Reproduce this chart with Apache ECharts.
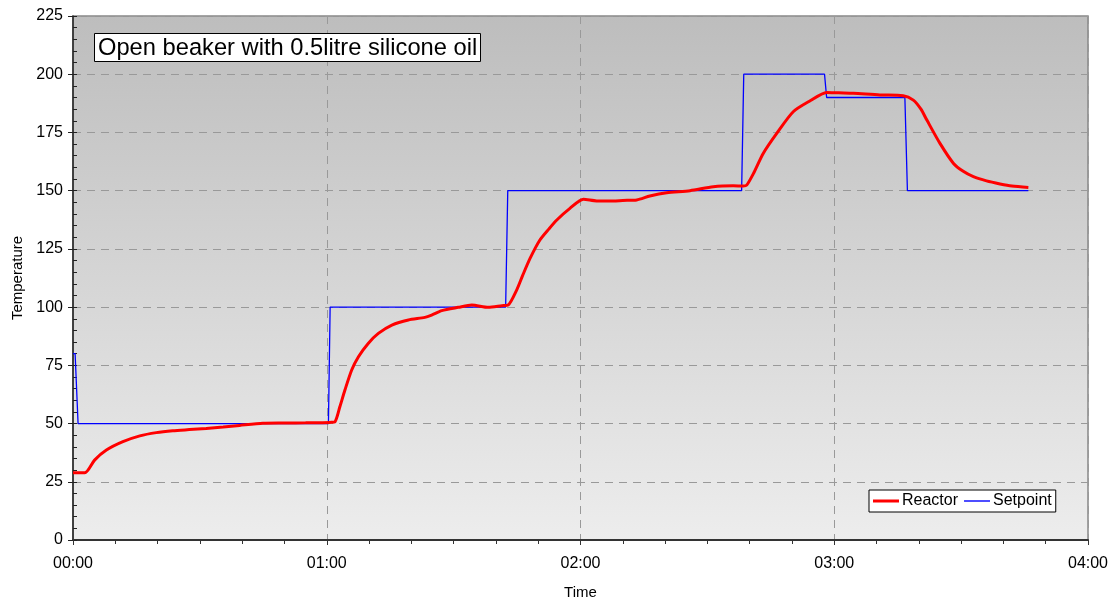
<!DOCTYPE html>
<html><head><meta charset="utf-8">
<script src="https://cdn.jsdelivr.net/npm/echarts@6/dist/echarts.min.js"></script>
<style>html,body{margin:0;padding:0;background:#fff}#c{width:1109px;height:599px}</style>
</head><body><div id="c"></div>
<script>
const titleText = 'Open beaker with 0.5litre silicone oil';
const xTicks = [0, 60, 120, 180, 240];
const reactorTime = [0,2.8,5.1,7.9,11.8,15.8,19.7,23.6,27.5,31.5,35.5,39.4,44.9,50,55,60.8,61.95,63.1,64.3,65.9,67.5,69.8,72.2,75.4,79.3,83.2,84.8,87.2,91.1,94.3,98.2,101.4,102.9,104.9,106.3,108.1,110.4,112.5,114.4,117.5,120.7,123.8,127.8,130,133.3,136.4,140.4,145.9,151.4,156.1,158.5,159.3,160.9,163.2,166.4,170.3,174.3,178.2,181,184.5,190.8,196.3,198.7,200.5,201.9,205,208.2,210.5,212.9,216,219.2,222,225.9];
const reactorTemp = [28.9,28.9,34.3,38.6,42.2,44.7,46.1,46.9,47.4,47.9,48.5,49.2,50.1,50.2,50.3,50.5,50.8,57.2,64.4,73,78.7,84.4,88.7,92.3,94.5,95.6,96.6,98.5,99.9,100.9,99.9,100.6,100.9,107.3,113.5,121,128.8,133.5,137.4,142.4,146.3,145.6,145.6,145.8,146,147.7,149.1,150,151.7,152.1,152,152.4,157.4,166,174.6,183.9,188.6,192.2,192,191.8,191.1,190.8,188.9,185,180.3,170.3,161.7,158.3,156,154.2,152.9,152,151.4];
const setpointTime = [0,0.5,1.2,60.4,60.8,102.3,102.8,158.1,158.6,177.7,178.2,196.7,197.3,225.9];
const setpointTemp = [80,80,50,50,100,100,150,150,200,200,190,190,150,150];

const reactor = reactorTime.map((t,i)=>[t,reactorTemp[i]]);
const setpoint = setpointTime.map((t,i)=>[t,setpointTemp[i]]);
const pad = n => (n<10?'0':'')+n;
const fmt = v => pad(Math.floor(v/60)) + ':' + pad(Math.round(v%60));
const FONT = 'Liberation Sans';

const chart = echarts.init(document.getElementById('c'));
const xBase = {type:'value', min:xTicks[0], max:xTicks[xTicks.length-1], interval:60};
const yBase = {type:'value', min:0, max:225, interval:25};
chart.setOption({
  animation:false,
  textStyle:{fontFamily:FONT},
  title:{text:titleText, left:94, top:33, borderColor:'#000', borderWidth:1, backgroundColor:'#fff',
    padding:[3,4,2,4], textStyle:{fontSize:23.7, fontWeight:'normal', color:'#000', fontFamily:FONT}},
  legend:{left:869, top:490, orient:'horizontal', borderColor:'#000', borderWidth:1, backgroundColor:'#fff',
    padding:[3,4,3,4], itemGap:6, itemWidth:26, itemHeight:10, symbolKeepAspect:true,
    textStyle:{fontSize:16, color:'#000', fontFamily:FONT, padding:[0,0,0,-2]},
    data:[{name:'Reactor', icon:'path://M0,0H26V3H0Z'},{name:'Setpoint', icon:'path://M0,0H26V1.4H0Z'}]},
  grid:{left:73, right:21, top:16, bottom:59, outerBoundsMode:'none', containLabel:false,
    show:true, borderColor:'#888', borderWidth:1.5,
    backgroundColor:new echarts.graphic.LinearGradient(0,0,0,1,[{offset:0,color:'#bdbdbd'},{offset:1,color:'#ededed'}])},
  xAxis:[
    Object.assign({}, xBase, {
      name:'Time', nameLocation:'middle', nameGap:45, nameTextStyle:{fontSize:15, color:'#000'},
      axisLine:{lineStyle:{color:'#333', width:2}},
      axisTick:{show:true, length:5, lineStyle:{color:'#333'}},
      axisLabel:{formatter:fmt, fontSize:16, color:'#000', margin:16},
      splitLine:{show:true, lineStyle:{color:'#999', type:[8,6], width:1}}
    }),
    Object.assign({}, xBase, {
      axisLine:{show:false}, axisLabel:{show:false}, splitLine:{show:false},
      axisTick:{show:true, inside:true, length:4, lineStyle:{color:'#333'}},
      minorTick:{show:true, splitNumber:6, length:4, lineStyle:{color:'#333'}}
    })
  ],
  yAxis:[
    Object.assign({}, yBase, {
      name:'Temperature', nameLocation:'middle', nameGap:47, nameRotate:90, nameTextStyle:{fontSize:15, color:'#000'},
      axisLine:{show:true, lineStyle:{color:'#222', width:1.5}},
      axisTick:{show:true, length:5, lineStyle:{color:'#222'}},
      axisLabel:{fontSize:16, color:'#000', margin:10},
      splitLine:{show:true, lineStyle:{color:'#999', type:[8,6], width:1}}
    }),
    Object.assign({}, yBase, {
      position:'left',
      axisLine:{show:false}, axisLabel:{show:false}, splitLine:{show:false},
      axisTick:{show:true, inside:true, length:4, lineStyle:{color:'#222'}},
      minorTick:{show:true, splitNumber:5, length:4, lineStyle:{color:'#222'}}
    })
  ],
  series:[
    {name:'Reactor', type:'line', data:reactor, showSymbol:false, symbol:'none', smooth:0.25,
      lineStyle:{color:'#ff0000', width:3}, itemStyle:{color:'#ff0000'}, z:3},
    {name:'Setpoint', type:'line', data:setpoint, showSymbol:false, symbol:'none',
      lineStyle:{color:'#0000ff', width:1.3}, itemStyle:{color:'#0000ff'}, z:2}
  ]
});
</script></body></html>
